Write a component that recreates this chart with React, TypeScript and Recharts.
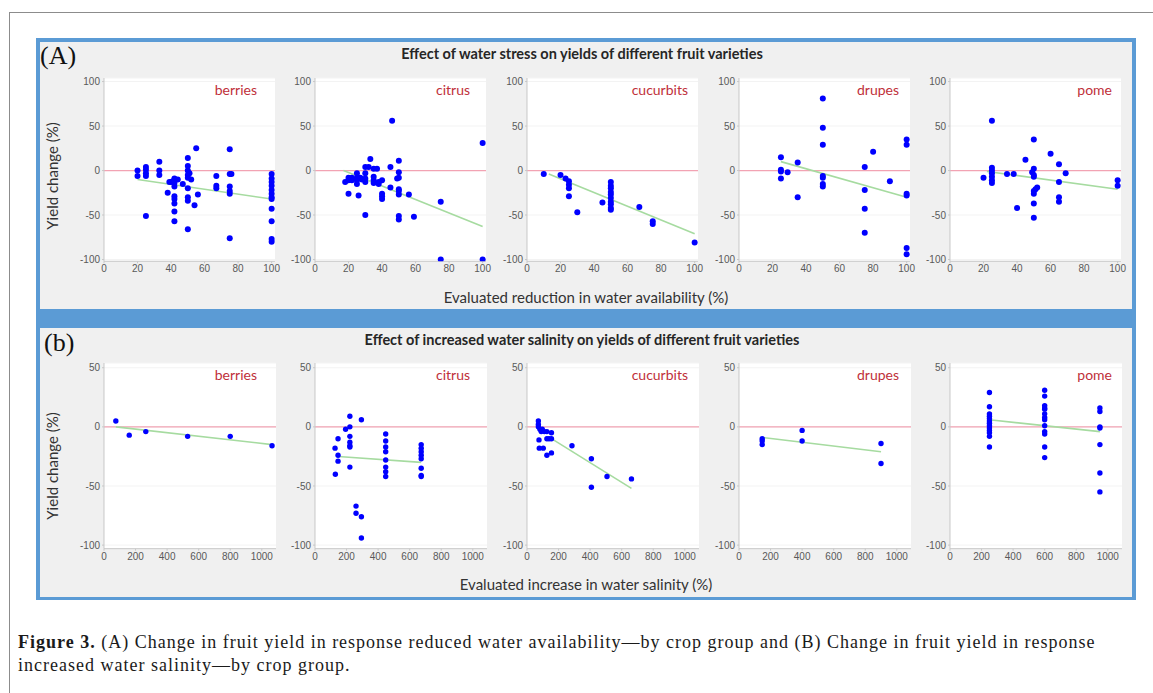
import React from 'react';
import { ScatterChart, Scatter, XAxis, YAxis, CartesianGrid, ReferenceLine } from 'recharts';

// ---------- categories & tick labels ----------
const cropGroups = ['berries', 'citrus', 'cucurbits', 'drupes', 'pome'];
const waterXTicks = [0, 20, 40, 60, 80, 100];
const waterYTicks = [-100, -50, 0, 50, 100];
const salinityXTicks = [0, 200, 400, 600, 800, 1000];
const salinityYTicks = [-100, -50, 0, 50];

// ---------- (A) water stress: [reduction %, yield change %] ----------
const waterBerries = [
  [20, 0], [20, -6], [25, 4], [25, 1], [25, -3], [25, -6], [25, -51], [33, 10], [33, 0], [33, -5],
  [38, -25], [39, -13], [40, -13], [41, -12], [42, -9], [42, -14], [42, -18], [42, -29], [42, -32],
  [42, -37], [42, -46], [42, -57], [44, -10], [47, -15], [50, 14], [50, 5], [50, 0], [50, -5], [50, -8],
  [50, -20], [50, -30], [50, -34], [50, -66], [51, -3], [52, -10], [54, -39], [55, 25], [56, -27],
  [67, -6], [67, -17], [67, -20], [75, 24], [75, -4], [76, -4], [75, -18], [75, -23], [75, -26], [75, -76],
  [100, -4], [100, -9], [100, -13], [100, -17], [100, -22], [100, -26], [100, -30], [100, -32],
  [100, -43], [100, -57], [100, -77], [100, -80],
];
const waterCitrus = [
  [18, -13], [20, -8], [20, -11], [20, -26], [22, -8], [22, -11], [25, -3], [25, -8], [25, -11], [25, -15],
  [26, -28], [27, -8], [28, -10], [30, 4], [30, -3], [30, -9], [30, -13], [30, -50], [32, 4], [33, 13],
  [35, -7], [35, -11], [35, -14], [35, 2], [37, 2], [38, -15], [38, -13], [40, -11], [40, -26], [40, -29],
  [40, -32], [45, 4], [45, -19], [46, 56], [49, -9], [50, 11], [50, -2], [50, -8], [50, -21], [50, -23],
  [50, -27], [50, -51], [50, -55], [56, -27], [59, -52], [75, -35], [75, -100], [100, 31], [100, -100],
];
const waterCucurbits = [
  [10, -4], [20, -5], [23, -9], [25, -12], [25, -16], [25, -20], [25, -29], [30, -47], [45, -36],
  [50, -13], [50, -17], [50, -20], [50, -24], [50, -27], [50, -31], [50, -35], [50, -38], [50, -42],
  [50, -44], [67, -41], [75, -57], [75, -60], [100, -81],
];
const waterDrupes = [
  [25, 15], [25, 1], [25, -1], [25, -9], [29, -2], [35, 9], [35, -30], [50, 81], [50, 48], [50, 29],
  [50, -6], [50, -8], [50, -15], [50, -18], [75, 4], [75, -22], [75, -43], [75, -70], [80, 21], [90, -12],
  [100, 35], [100, 29], [100, -26], [100, -28], [100, -87], [100, -94],
];
const waterPome = [
  [20, -8], [25, 56], [25, 3], [25, 0], [25, -3], [25, -7], [25, -11], [25, -14], [34, -4], [38, -4],
  [40, -42], [45, 12], [49, -2], [50, -5], [50, 35], [50, 2], [50, -7], [50, -23], [50, -26], [50, -37],
  [50, -53], [51, -21], [52, -19], [60, 19], [65, 7], [65, -13], [65, -30], [65, -35], [69, -3],
  [100, -11], [100, -17],
];
const waterTrends = [
  [[20, -10], [100, -32]],
  [[17, 0], [100, -63]],
  [[13, -4], [100, -71]],
  [[25, 10], [100, -30]],
  [[22, -1], [100, -21]],
];

// ---------- (B) salinity: [increase %, yield change %] ----------
const salinityBerries = [[75, 5], [160, -7], [265, -4], [530, -8], [800, -8], [1065, -16]];
const salinityCitrus = [
  [127, -18], [129, -40], [146, -10], [146, -24], [146, -29], [194, -2], [221, 9], [221, 0], [221, -8],
  [221, -13], [221, -16], [221, -17], [221, -34], [260, -67], [260, -73], [294, 6], [294, -76], [294, -94],
  [448, -6], [448, -12], [448, -17], [448, -21], [448, -28], [448, -34], [448, -38], [448, -42],
  [673, -15], [673, -18], [673, -21], [673, -24], [673, -27], [673, -35], [673, -41], [673, -42],
];
const salinityCucurbits = [
  [72, 5], [72, 2], [72, 0], [76, -11], [78, -18], [82, -2], [90, -4], [97, -2], [103, -18], [110, -4],
  [126, -4], [126, -10], [126, -24], [140, -10], [155, -5], [155, -10], [155, -22], [285, -16],
  [408, -27], [408, -51], [507, -42], [662, -44],
];
const salinityDrupes = [[147, -10], [147, -12], [147, -15], [400, -3], [400, -12], [900, -14], [900, -31]];
const salinityPome = [
  [250, 29], [250, 17], [250, 11], [250, 9], [250, 7], [250, 5], [250, 3], [250, 1], [250, -1], [250, -3],
  [250, -5], [250, -8], [250, -17],
  [600, 31], [600, 26], [600, 18], [600, 16], [600, 15], [600, 11], [600, 8], [600, 6], [600, 1], [600, -4],
  [600, -6], [600, -17], [600, -26],
  [950, 16], [950, 13], [950, 0], [950, -1], [950, -15], [950, -39], [950, -55],
];
const salinityTrends = [
  [[75, 0], [1065, -15]],
  [[148, -25], [673, -30]],
  [[155, -10], [662, -52]],
  [[150, -9], [900, -21]],
  [[250, 6], [950, -4]],
];

const waterSeries = [waterBerries, waterCitrus, waterCucurbits, waterDrupes, waterPome];
const salinitySeries = [salinityBerries, salinityCitrus, salinityCucurbits, salinityDrupes, salinityPome];

const toPts = (a: number[][]) => a.map(([x, y]) => ({ x, y }));

// ---------- layout (style only) ----------
const panelX0 = [104, 315, 527, 739, 950];
const labelEnd = [153, 155, 161, 160, 162];
const SANS = 'Lato, "Open Sans", sans-serif';
const TICK_FONT = '"Liberation Sans", Arial, sans-serif';
const SERIF = '"Liberation Serif", "Times New Roman", serif';

type RowCfg = {
  plotTop: number; plotH: number; plotW: number;
  xDomain: [number, number]; yDomain: [number, number];
  xTicks: number[]; yTicks: number[]; r: number;
};

const topRow: RowCfg = {
  plotTop: 78, plotH: 183.3, plotW: 171, xDomain: [0, 102], yDomain: [-102, 104],
  xTicks: waterXTicks, yTicks: waterYTicks, r: 3,
};
const bottomRow: RowCfg = {
  plotTop: 363, plotH: 185.7, plotW: 172, xDomain: [0, 1090], yDomain: [-103, 54],
  xTicks: salinityXTicks, yTicks: salinityYTicks, r: 2.7,
};

const YW = 30;
const XH = 20;
const MT = 8;
const MR = 14;

function Panel({ cfg, idx, data, trend }: { cfg: RowCfg; idx: number; data: number[][]; trend: number[][] }) {
  const x0 = panelX0[idx];
  const W = YW + cfg.plotW + MR;
  const H = MT + cfg.plotH + XH;
  const dot = (p: any) => <circle cx={p.cx} cy={p.cy} r={cfg.r} fill="#0000ff" />;
  const noDot = () => <g />;
  const tick = { fontSize: 10, fill: '#595959', fontFamily: TICK_FONT };
  return (
    <>
      <div style={{ position: 'absolute', left: x0 - YW, top: cfg.plotTop - MT }}>
        <ScatterChart width={W} height={H} margin={{ top: MT, right: MR, bottom: 0, left: 0 }}>
          <CartesianGrid vertical={false} stroke="#f3f3f3" fill="#ffffff" />
          <XAxis
            type="number" dataKey="x" domain={cfg.xDomain} ticks={cfg.xTicks} allowDataOverflow
            height={XH} tickSize={2} tickMargin={2} interval={0}
            axisLine={{ stroke: '#c8c8c8' }} tickLine={{ stroke: '#c8c8c8' }} tick={tick}
          />
          <YAxis
            type="number" dataKey="y" domain={cfg.yDomain} ticks={cfg.yTicks} allowDataOverflow
            width={YW} tickSize={2} tickMargin={2} interval={0}
            axisLine={{ stroke: '#c8c8c8' }} tickLine={{ stroke: '#c8c8c8' }} tick={tick}
          />
          <ReferenceLine y={0} stroke="#f2a3b3" strokeWidth={1.3} />
          <Scatter data={toPts(trend)} line={{ stroke: '#a6dba0', strokeWidth: 1.6 }} shape={noDot} isAnimationActive={false} legendType="none" />
          <Scatter data={toPts(data)} shape={dot} isAnimationActive={false} legendType="none" />
        </ScatterChart>
      </div>
      <div style={{
        position: 'absolute', left: x0 + labelEnd[idx] - 100, width: 100, textAlign: 'right',
        top: cfg.plotTop + 3, lineHeight: '18px', fontSize: 14, color: '#c0303a', fontFamily: SANS,
      }}>
        {cropGroups[idx]}
      </div>
    </>
  );
}

const textBase: React.CSSProperties = { position: 'absolute', whiteSpace: 'nowrap', fontFamily: SANS, color: '#262626' };

function YTitle({ cy }: { cy: number }) {
  return (
    <div style={{
      ...textBase, left: 52 - 70, top: cy - 10, width: 140, textAlign: 'center', lineHeight: '20px',
      fontSize: 15, color: '#333', transform: 'rotate(-90deg)',
    }}>
      Yield change (%)
    </div>
  );
}

export default function App() {
  return (
    <div style={{ position: 'absolute', left: 0, top: 0, width: 1153, height: 693, background: '#fff', overflow: 'hidden' }}>
      {/* outer frame */}
      <div style={{ position: 'absolute', left: 9, top: 12, width: 1160, height: 700, borderLeft: '1.5px solid #8c8c8c', borderTop: '1.5px solid #8c8c8c' }} />
      {/* blue panels */}
      <div style={{ position: 'absolute', left: 36, top: 38, width: 1100, height: 562, background: '#5b9bd5' }} />
      <div style={{ position: 'absolute', left: 40, top: 42, width: 1092, height: 267, background: '#f0f0f0' }} />
      <div style={{ position: 'absolute', left: 40, top: 328, width: 1092, height: 269, background: '#f0f0f0' }} />

      {/* panel A */}
      <div style={{ ...textBase, left: 40, top: 42, fontSize: 26, lineHeight: '28px', fontFamily: SERIF, color: '#111' }}>(A)</div>
      <div style={{ ...textBase, left: 36, width: 1092, textAlign: 'center', top: 45, lineHeight: '18px', fontSize: 14.5, fontWeight: 700 }}>
        Effect of water stress on yields of different fruit varieties
      </div>
      <YTitle cy={176} />
      {cropGroups.map((_, i) => (
        <Panel key={'a' + i} cfg={topRow} idx={i} data={waterSeries[i]} trend={waterTrends[i]} />
      ))}
      <div style={{ ...textBase, left: 40, width: 1092, textAlign: 'center', top: 288, lineHeight: '18px', fontSize: 15, color: '#333' }}>
        Evaluated reduction in water availability (%)
      </div>

      {/* panel B */}
      <div style={{ ...textBase, left: 44, top: 329, fontSize: 26, lineHeight: '28px', fontFamily: SERIF, color: '#111' }}>(b)</div>
      <div style={{ ...textBase, left: 36, width: 1092, textAlign: 'center', top: 331, lineHeight: '18px', fontSize: 14.5, fontWeight: 700 }}>
        Effect of increased water salinity on yields of different fruit varieties
      </div>
      <YTitle cy={466} />
      {cropGroups.map((_, i) => (
        <Panel key={'b' + i} cfg={bottomRow} idx={i} data={salinitySeries[i]} trend={salinityTrends[i]} />
      ))}
      <div style={{ ...textBase, left: 40, width: 1092, textAlign: 'center', top: 575, lineHeight: '18px', fontSize: 15, color: '#333' }}>
        Evaluated increase in water salinity (%)
      </div>

      {/* caption */}
      <div style={{ ...textBase, left: 18, top: 631, fontSize: 18, letterSpacing: 1.0, lineHeight: '23px', fontFamily: SERIF, color: '#1a1a1a' }}>
        <b>Figure 3.</b> (A) Change in fruit yield in response reduced water availability—by crop group and (B) Change in fruit yield in response
        <br />
        increased water salinity—by crop group.
      </div>
    </div>
  );
}
